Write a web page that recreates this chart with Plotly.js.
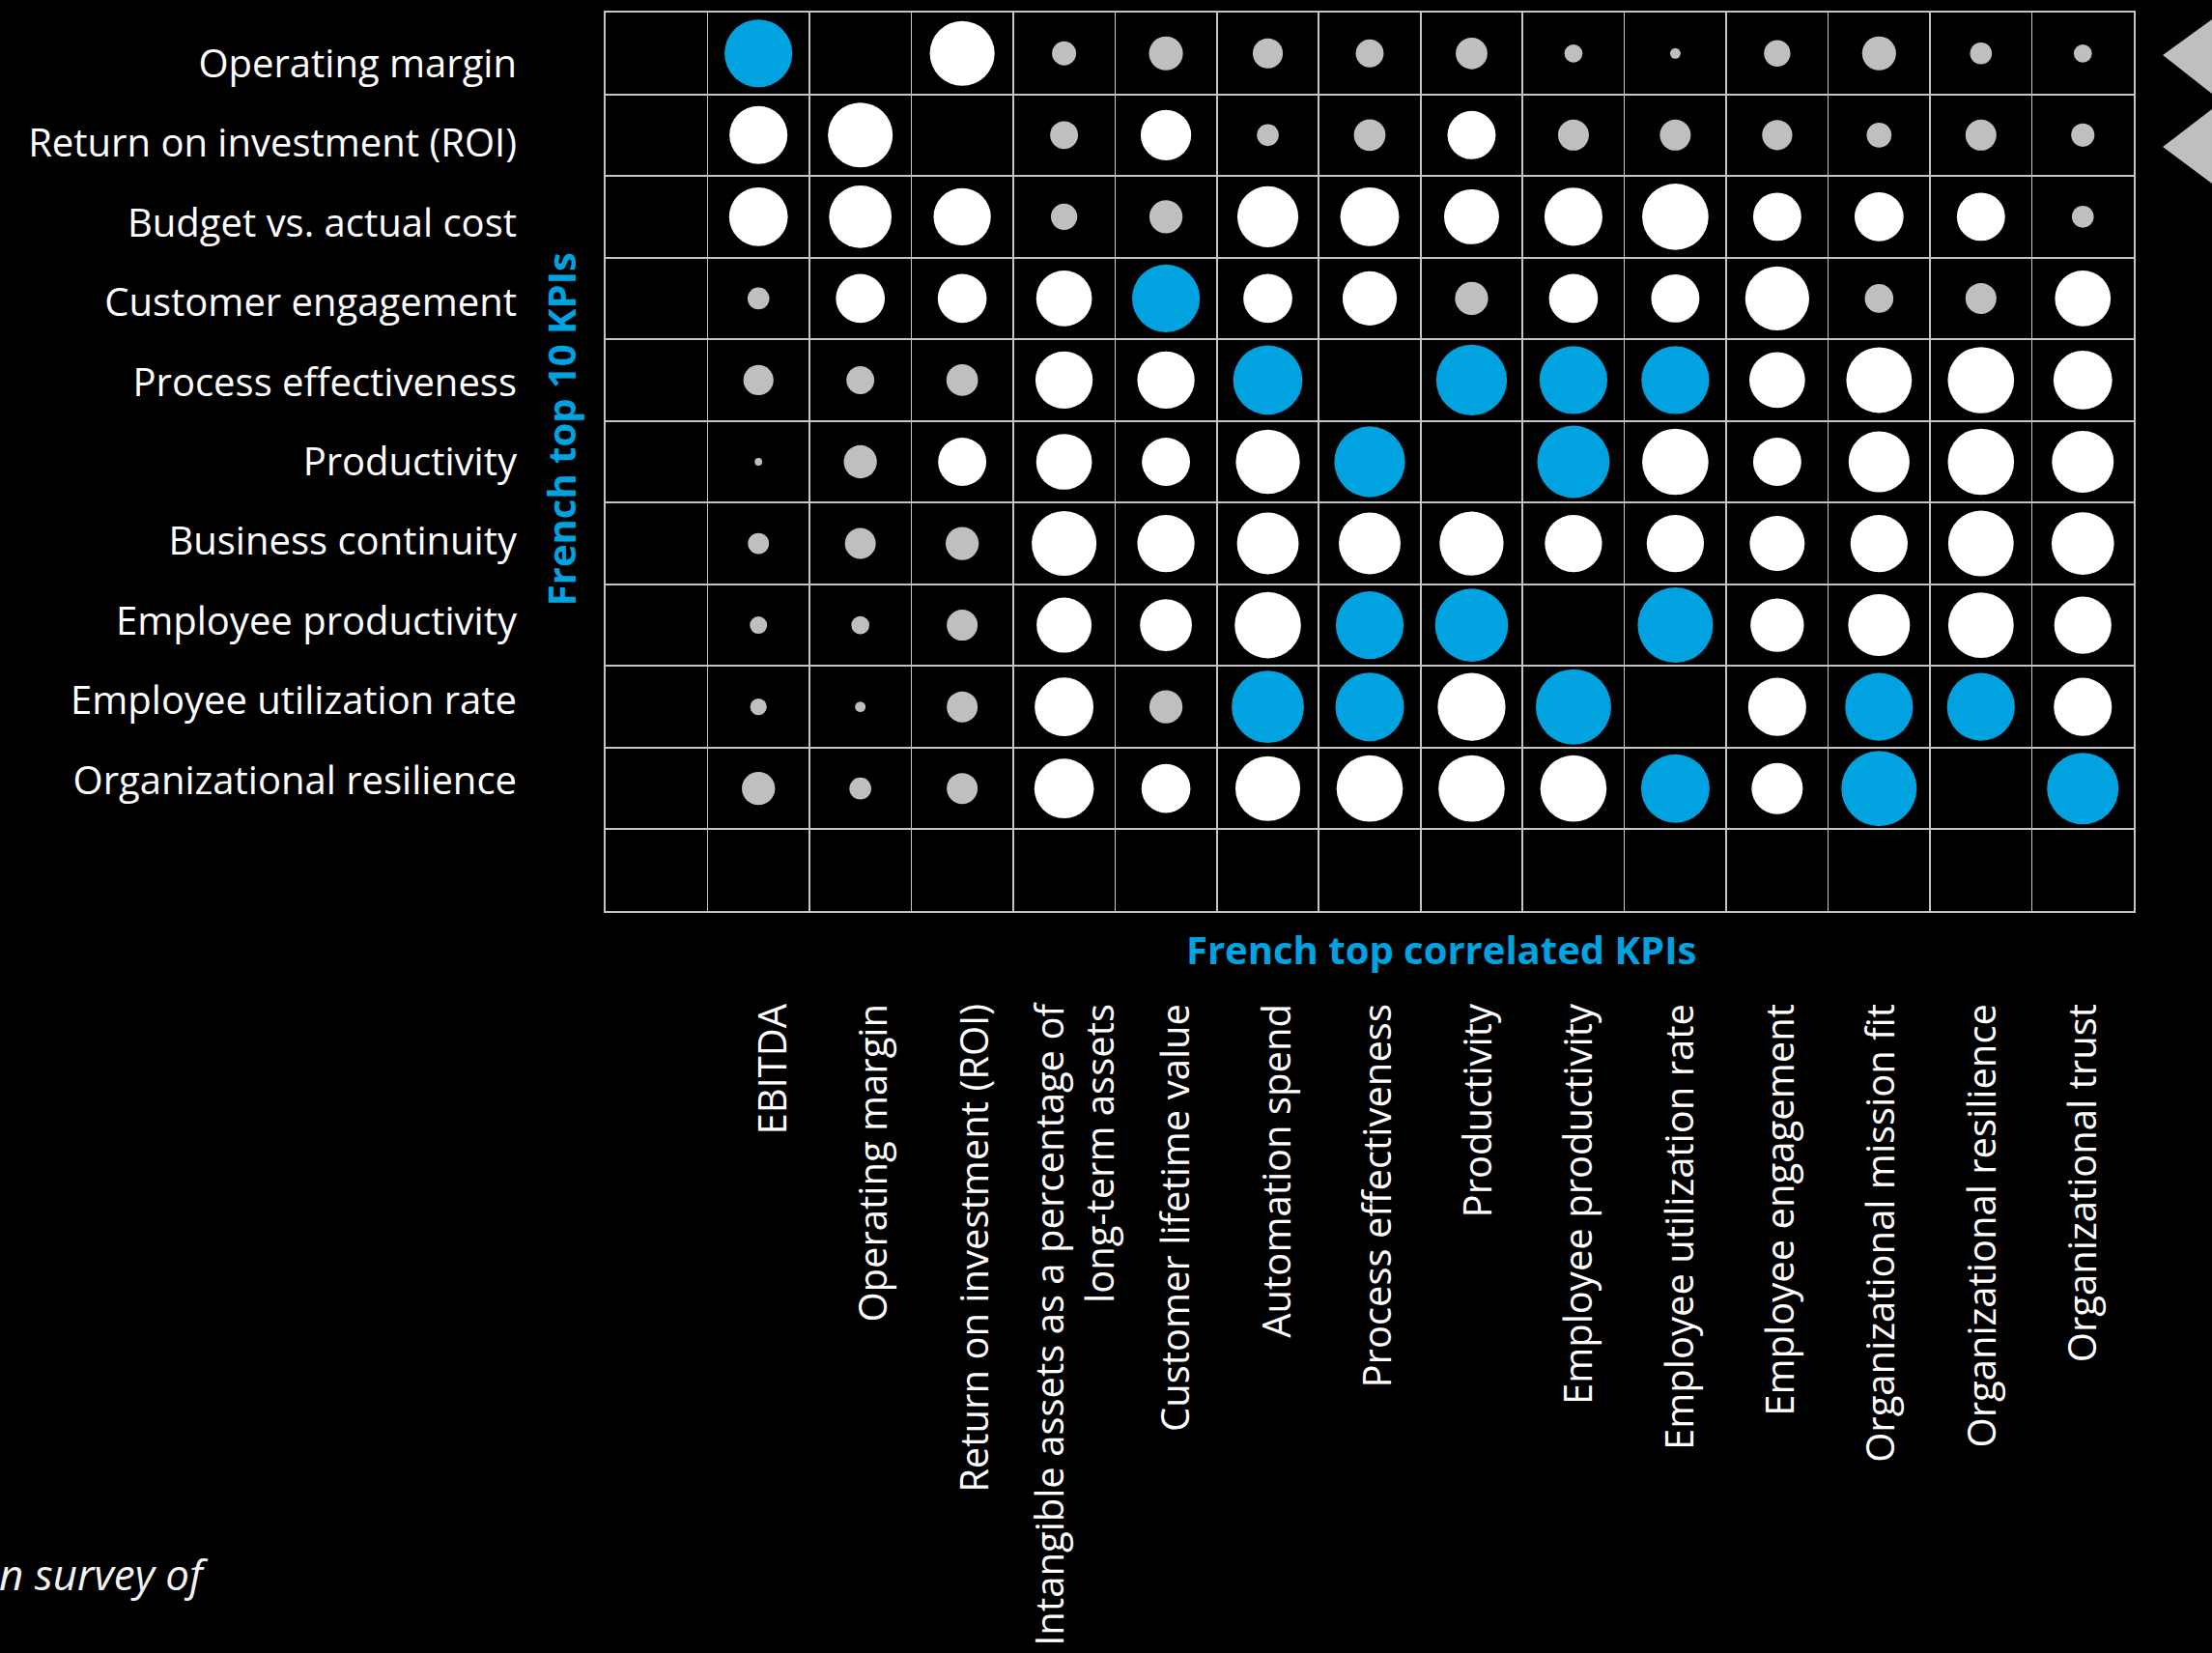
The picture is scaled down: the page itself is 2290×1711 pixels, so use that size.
<!DOCTYPE html>
<html>
<head>
<meta charset="utf-8">
<script src="https://cdn.plot.ly/plotly-3.0.1.min.js"></script>
<style>
  html, body { margin: 0; padding: 0; background: #000; }
  #grafico { width: 2290px; height: 1711px; }
</style>
</head>
<body>
<div id="grafico"></div>
<script>
// ===== Data =====
// rows: French top 10 KPIs (top to bottom)
const rowLabels = [
  "Operating margin",
  "Return on investment (ROI)",
  "Budget vs. actual cost",
  "Customer engagement",
  "Process effectiveness",
  "Productivity",
  "Business continuity",
  "Employee productivity",
  "Employee utilization rate",
  "Organizational resilience",
];

// columns: French top correlated KPIs (left to right)
const colLabels = [
  "EBITDA",
  "Operating margin",
  "Return on investment (ROI)",
  "Intangible assets as a percentage of<br>long-term assets",
  "Customer lifetime value",
  "Automation spend",
  "Process effectiveness",
  "Productivity",
  "Employee productivity",
  "Employee utilization rate",
  "Employee engagement",
  "Organizational mission fit",
  "Organizational resilience",
  "Organizational trust",
];

// correlation strength, 0-100 relative to the biggest bubble (null = no bubble)
const strength = [
  [90, null, 86, 32, 45, 40, 37, 42, 24, 14, 35, 45, 29, 24],
  [77, 86, null, 37, 67, 29, 42, 64, 41, 41, 40, 33, 41, 31],
  [78, 83, 76, 35, 44, 81, 78, 73, 77, 88, 64, 65, 64, 29],
  [29, 65, 65, 74, 90, 65, 72, 44, 65, 64, 85, 38, 41, 74],
  [40, 37, 42, 76, 76, 92, null, 94, 90, 90, 74, 87, 88, 78],
  [10, 44, 64, 74, 64, 85, 94, null, 96, 88, 64, 81, 88, 82],
  [28, 41, 44, 86, 76, 82, 82, 85, 76, 76, 73, 76, 87, 83],
  [23, 24, 41, 73, 69, 88, 90, 97, null, 100, 71, 82, 87, 76],
  [22, 14, 41, 78, 44, 96, 91, 90, 100, null, 77, 90, 90, 77],
  [44, 29, 41, 79, 65, 86, 88, 88, 88, 91, 68, 100, null, 95],
];

// tier: 2 = top correlation (blue), 1 = strong (white), 0 = weak (grey)
const tier = [
  [2, null, 1, 0, 0, 0, 0, 0, 0, 0, 0, 0, 0, 0],
  [1, 1, null, 0, 1, 0, 0, 1, 0, 0, 0, 0, 0, 0],
  [1, 1, 1, 0, 0, 1, 1, 1, 1, 1, 1, 1, 1, 0],
  [0, 1, 1, 1, 2, 1, 1, 0, 1, 1, 1, 0, 0, 1],
  [0, 0, 0, 1, 1, 2, null, 2, 2, 2, 1, 1, 1, 1],
  [0, 0, 1, 1, 1, 1, 2, null, 2, 1, 1, 1, 1, 1],
  [0, 0, 0, 1, 1, 1, 1, 1, 1, 1, 1, 1, 1, 1],
  [0, 0, 0, 1, 1, 1, 2, 2, null, 2, 1, 1, 1, 1],
  [0, 0, 0, 1, 0, 2, 2, 1, 2, null, 1, 2, 2, 1],
  [0, 0, 0, 1, 1, 1, 1, 1, 1, 2, 1, 2, null, 2],
];

// ===== Style =====
const BLUE = "#00A3E0";
const GREY = "#BFBFBF";
const GRID = "#C4C4C4";
const tierColors = [GREY, "#FFFFFF", BLUE];
const MAX_D = 78;        // px diameter for strength 100
const FONT = "Open Sans, Noto Sans, sans-serif";

// ===== Traces =====
function tracePorTier(t) {
  const x = [], y = [], s = [];
  strength.forEach((row, r) => {
    row.forEach((v, c) => {
      if (v === null || tier[r][c] !== t) return;
      x.push(c + 1);       // column 0 of the grid stays empty
      y.push(r);
      s.push(v / 100 * MAX_D);
    });
  });
  return {
    x, y, type: "scatter", mode: "markers",
    marker: { size: s, sizemode: "diameter", color: tierColors[t], opacity: 1, line: { width: 0 } },
    hoverinfo: "skip", showlegend: false, cliponaxis: false,
  };
}

const data = [tracePorTier(0), tracePorTier(1), tracePorTier(2)];

const nCols = colLabels.length + 1;
const nRows = rowLabels.length + 1;
const colBounds = [];
for (let i = 0; i <= nCols; i++) colBounds.push(i - 0.5);
const rowBounds = [];
for (let i = 0; i <= nRows; i++) rowBounds.push(i - 0.5);

const layout = {
  width: 2290,
  height: 1711,
  margin: { l: 627, r: 81, t: 13, b: 768, autoexpand: false },
  paper_bgcolor: "#000",
  plot_bgcolor: "#000",
  font: { family: FONT, color: "#FFFFFF" },
  xaxis: {
    range: [-0.5, nCols - 0.5],
    tickmode: "array",
    // labels sit a bit right of the columns, on a slightly tighter pitch
    tickvals: colLabels.map((_, i) => 1.15 + i * 0.989),
    ticktext: colLabels,
    tickangle: -90,
    tickfont: { family: FONT, size: 40, color: "#FFFFFF" },
    ticks: "",
    ticklabelstandoff: 78,
    showgrid: false,
    zeroline: false,
    showline: true, mirror: true, linecolor: GRID, linewidth: 2,
    minor: { tickmode: "array", tickvals: colBounds, showgrid: true, gridcolor: GRID, gridwidth: 1.6, ticks: "" },
    fixedrange: true,
    automargin: false,
  },
  yaxis: {
    range: [nRows - 0.5, -0.5],
    tickmode: "array",
    // labels sit on a slightly tighter pitch than the rows in the source
    tickvals: rowLabels.map((_, i) => i * 0.975 + 0.125),
    ticktext: rowLabels,
    tickfont: { family: FONT, size: 40, color: "#FFFFFF" },
    ticks: "",
    ticklabelstandoff: 82,
    showgrid: false,
    zeroline: false,
    showline: true, mirror: true, linecolor: GRID, linewidth: 2,
    minor: { tickmode: "array", tickvals: rowBounds, showgrid: true, gridcolor: GRID, gridwidth: 2, ticks: "" },
    fixedrange: true,
    automargin: false,
  },
  annotations: [
    {
      text: "French top 10 KPIs", textangle: -90,
      xref: "paper", x: -0.0297, yref: "y", y: (rowLabels.length - 1) / 2 + 0.1,
      xanchor: "center", yanchor: "middle", showarrow: false,
      font: { family: FONT, size: 40, color: BLUE, weight: 700 },
    },
    {
      text: "French top correlated KPIs",
      xref: "paper", x: 0.547, yref: "paper", y: -0.042,
      xanchor: "center", yanchor: "middle", showarrow: false,
      font: { family: FONT, size: 40, color: BLUE, weight: 700 },
    },
    {
      text: "<i>n survey of</i>",
      xref: "paper", x: -0.3985, yref: "paper", y: -0.738,
      xanchor: "left", yanchor: "middle", showarrow: false,
      font: { family: FONT, size: 44, color: "#F2F2F2" },
    },
  ],
  shapes: [
    // cropped grey arrows at the right edge
    { type: "path", xref: "paper", yref: "paper", path: "M 1.019 0.9527 L 1.0512 0.9925 L 1.0512 0.9097 Z",
      fillcolor: GREY, line: { width: 0 } },
    { type: "path", xref: "paper", yref: "paper", path: "M 1.019 0.8505 L 1.0512 0.8925 L 1.0512 0.8097 Z",
      fillcolor: GREY, line: { width: 0 } },
  ],
};

Plotly.newPlot("grafico", data, layout, { displayModeBar: false, staticPlot: true });
</script>
</body>
</html>
